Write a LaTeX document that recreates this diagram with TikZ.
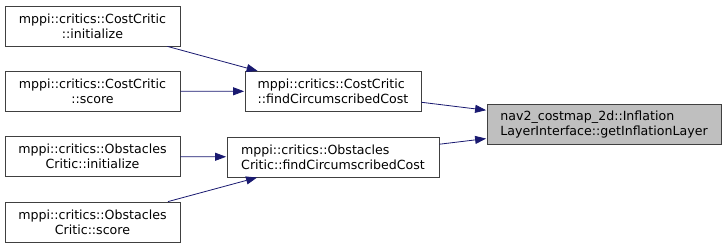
\documentclass[tikz,border=0pt]{standalone}
\usepackage{fontspec}
\setmainfont{DejaVu Sans}
\usetikzlibrary{arrows.meta}
\definecolor{edgeblue}{HTML}{191970}
\definecolor{boxline}{HTML}{404040}
\definecolor{hilite}{HTML}{BFBFBF}
\tikzset{sc/.style={x=1pt,y=-1pt,line width=.8pt,font=\fontsize{12.6}{15}\selectfont},
  fn/.style={draw=boxline,fill=white,inner sep=0pt,minimum height=40pt},
  call/.style={edgeblue,-{Triangle[length=11pt,width=8pt]},shorten >=.5pt}}

\begin{document}
\begin{tikzpicture}[sc]
  \useasboundingbox (0,0) rectangle (727,248);
  \foreach \n/\y/\l in {ci/26/{mppi::critics::CostCritic\\::initialize},cs/91/{mppi::critics::CostCritic\\::score},oi/156.5/{mppi::critics::Obstacles\\Critic::initialize},os/222/{mppi::critics::Obstacles\\Critic::score}}{\node[fn,minimum width=175pt,align=center] (\n) at (92.5,\y){\l};}
  \node[fn,minimum width=176pt,align=left] (cf) at (333,91.5){mppi::critics::CostCritic\\::findCircumscribedCost};
  \node[fn,minimum width=212pt,align=left] (of) at (333,157){mppi::critics::Obstacles\\Critic::findCircumscribedCost};
  \node[fn,fill=hilite,minimum width=234pt,align=left] (il) at (604,124.5){nav2\_costmap\_2d::Inflation\\LayerInterface::getInflationLayer};
  \foreach \a/\b in {ci/cf,cs/cf,oi/of,os/of,cf/il,of/il}{\draw[call] (\a)--(\b);}
\end{tikzpicture}
\end{document}
